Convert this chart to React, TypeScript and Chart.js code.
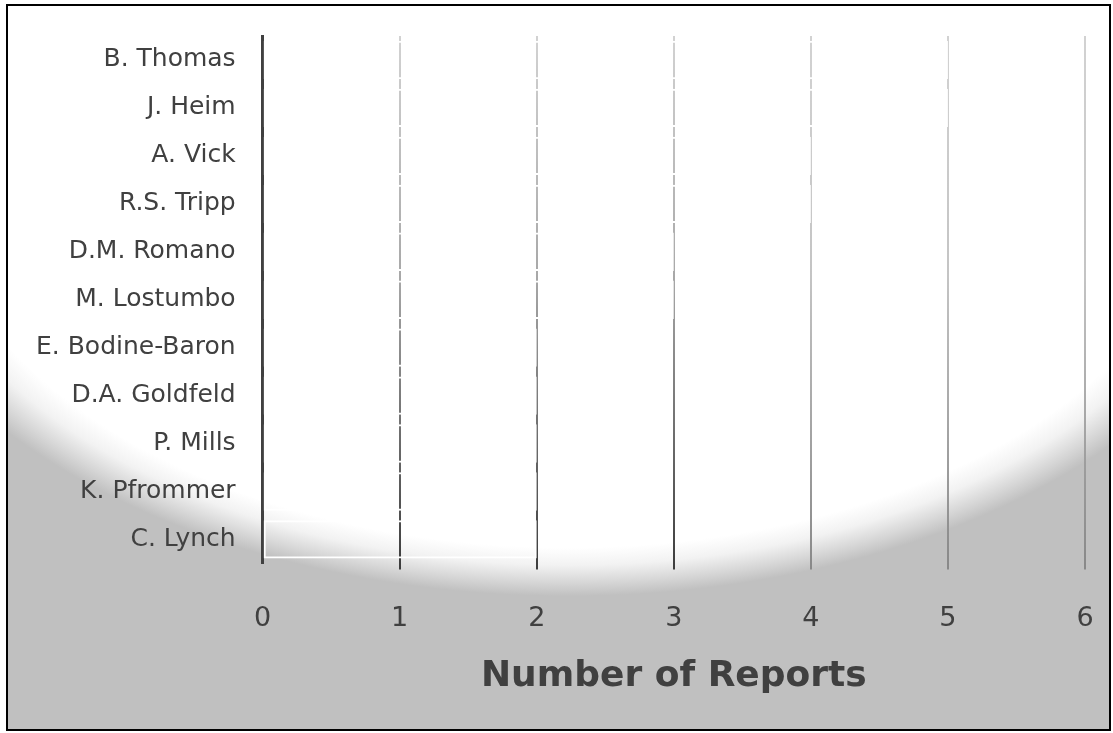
import React, { useEffect, useRef } from "react";
import { Chart, registerables } from "chart.js";

Chart.register(...registerables);

// Authors listed top to bottom, with their report counts
const authors = [
  "B. Thomas",
  "J. Heim",
  "A. Vick",
  "R.S. Tripp",
  "D.M. Romano",
  "M. Lostumbo",
  "E. Bodine-Baron",
  "D.A. Goldfeld",
  "P. Mills",
  "K. Pfrommer",
  "C. Lynch",
];
const reportCounts = [5, 5, 4, 4, 3, 3, 2, 2, 2, 2, 2];
const xTickValues = [0, 1, 2, 3, 4, 5, 6];
const xAxisTitle = "Number of Reports";

const CANVAS_W = 1101;
const CANVAS_H = 723;
const TEXT = "#404040";

export default function App() {
  const canvasRef = useRef<HTMLCanvasElement | null>(null);

  useEffect(() => {
    const canvas = canvasRef.current;
    if (!canvas) return;

    // vertical fade for the value gridlines: pale at the top, darker near the axis
    const gridColor = (ctx: any) => {
      const chart = ctx.chart;
      const area = chart.chartArea;
      const idx = ctx.index ?? 0;
      if (idx === 0) return "rgba(0,0,0,0)";
      if (!area) return "#999999";
      const g = chart.ctx.createLinearGradient(0, area.top, 0, area.bottom + 6);
      g.addColorStop(0, "#d2d2d2");
      if (idx <= 3) {
        g.addColorStop(0.45, "#a8a8a8");
        g.addColorStop(1, "#3c3c3c");
      } else {
        g.addColorStop(0.45, "#c4c4c4");
        g.addColorStop(1, "#888888");
      }
      return g;
    };

    const chart = new Chart(canvas, {
      type: "bar",
      data: {
        labels: authors,
        datasets: [
          {
            label: xAxisTitle,
            data: reportCounts,
            backgroundColor: "rgba(255,255,255,0)",
            borderColor: "#ffffff",
            borderWidth: 2,
            borderSkipped: false,
            categoryPercentage: 1,
            barPercentage: 0.8,
          },
        ],
      },
      options: {
        indexAxis: "y",
        responsive: false,
        animation: false,
        layout: { padding: { left: 28, right: 24, top: 30, bottom: 31 } },
        plugins: {
          legend: { display: false },
          tooltip: { enabled: false },
        },
        scales: {
          x: {
            type: "linear",
            min: xTickValues[0],
            max: xTickValues[xTickValues.length - 1],
            afterBuildTicks: (scale: any) => {
              scale.ticks = xTickValues.map((v) => ({ value: v }));
            },
            // only the half-width of the end labels needs side room
            afterFit: (scale: any) => {
              scale.paddingLeft = 10;
              scale.paddingRight = 10;
            },
            grid: {
              display: true,
              color: gridColor,
              tickColor: gridColor,
              lineWidth: 2,
              drawTicks: true,
              tickLength: 6,
            },
            border: { display: false },
            ticks: {
              color: TEXT,
              padding: 33,
              font: { family: "'DejaVu Sans', sans-serif", size: 27 },
            },
            title: {
              display: true,
              text: xAxisTitle,
              color: TEXT,
              padding: { top: -13, bottom: 0 },
              font: { family: "'DejaVu Sans', sans-serif", size: 36, weight: "bold" },
            },
          },
          y: {
            // invisible tick marks provide the gap between names and the axis
            grid: {
              display: false,
              drawTicks: true,
              tickLength: 27,
              tickColor: "rgba(0,0,0,0)",
            },
            border: { display: true, color: TEXT, width: 3 },
            ticks: {
              color: TEXT,
              padding: 0,
              font: { family: "'DejaVu Sans', sans-serif", size: 25 },
            },
          },
        },
      },
    });

    return () => chart.destroy();
  }, []);

  return (
    <div
      style={{
        position: "absolute",
        left: 6,
        top: 4,
        width: 1105,
        height: 727,
        boxSizing: "border-box",
        border: "2px solid #000000",
        background:
          "radial-gradient(ellipse 720px 440px at 560px 150px, #ffffff 0%, #ffffff 89%, #f2f2f2 93%, #d6d6d6 97%, #c0c0c0 100%)",
        overflow: "hidden",
      }}
    >
      <canvas
        ref={canvasRef}
        width={CANVAS_W}
        height={CANVAS_H}
        style={{ display: "block", width: CANVAS_W, height: CANVAS_H }}
      />
    </div>
  );
}
